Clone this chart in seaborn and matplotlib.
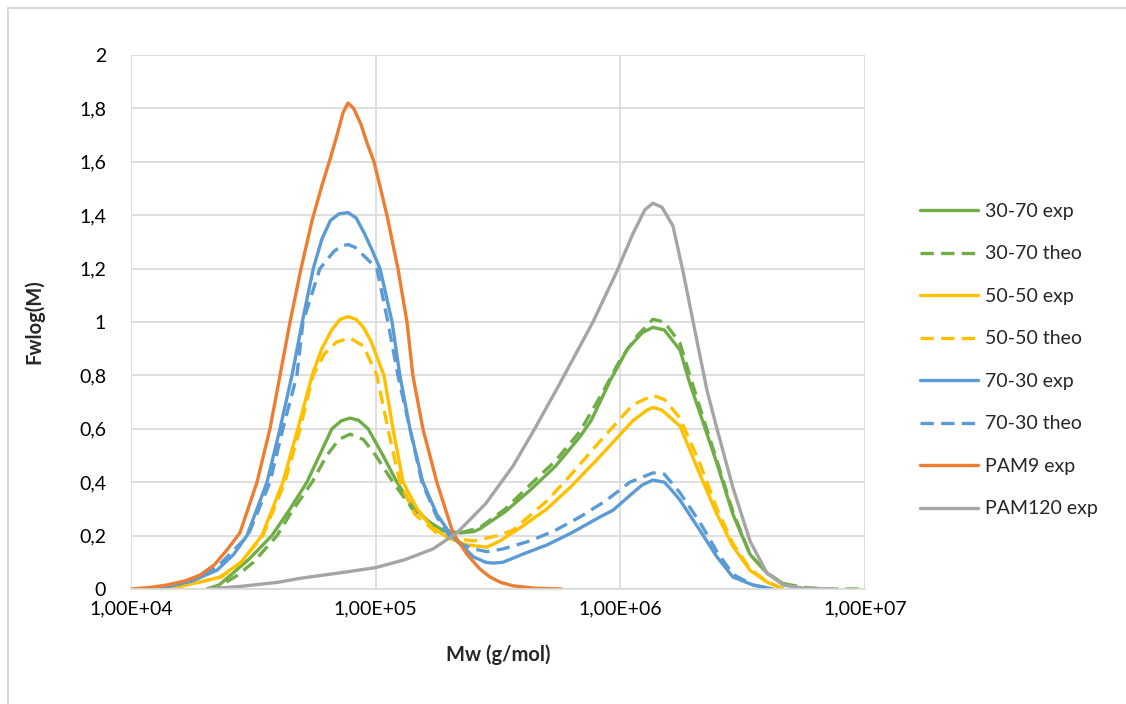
import numpy as np
import pandas as pd
import matplotlib
matplotlib.use("Agg")
import matplotlib.pyplot as plt
import seaborn as sns
from matplotlib.lines import Line2D

# ---- data (log10 of Mw in g/mol, Fwlog(M)) ----
labels = ["30-70 exp", "30-70 theo", "50-50 exp", "50-50 theo",
          "70-30 exp", "70-30 theo", "PAM9 exp", "PAM120 exp"]

logM_3070_exp = [4.311, 4.36, 4.405, 4.48, 4.576, 4.65, 4.719, 4.77, 4.821, 4.86, 4.895, 4.93, 4.969, 5.03,
                 5.087, 5.15, 5.22, 5.275, 5.345, 5.40, 5.426, 5.53, 5.631, 5.735, 5.835, 5.88, 5.917,
                 5.958, 6.03, 6.09, 6.133, 6.18, 6.244, 6.284, 6.325, 6.395, 6.46, 6.53, 6.599, 6.665, 6.734]
fw_3070_exp = [0.0, 0.015, 0.05, 0.11, 0.20, 0.30, 0.40, 0.50, 0.60, 0.63, 0.64, 0.632, 0.60, 0.50,
               0.40, 0.31, 0.25, 0.22, 0.21, 0.215, 0.225, 0.29, 0.37, 0.46, 0.57, 0.63, 0.70,
               0.78, 0.90, 0.96, 0.98, 0.97, 0.895, 0.77, 0.66, 0.47, 0.28, 0.13, 0.06, 0.02, 0.0]

logM_3070_theo = [4.311, 4.37, 4.433, 4.50, 4.597, 4.65, 4.74, 4.80, 4.85, 4.895, 4.95, 5.00, 5.071,
                  5.15, 5.263, 5.345, 5.426, 5.53, 5.631, 5.735, 5.835, 5.93, 6.00, 6.07, 6.133, 6.18,
                  6.244, 6.284, 6.325, 6.395, 6.46, 6.53, 6.599, 6.665, 6.76, 6.85, 7.0]
fw_3070_theo = [0.0, 0.015, 0.05, 0.10, 0.20, 0.28, 0.40, 0.50, 0.56, 0.58, 0.56, 0.50, 0.40,
                0.30, 0.22, 0.21, 0.23, 0.30, 0.39, 0.48, 0.59, 0.74, 0.86, 0.95, 1.01, 1.00,
                0.92, 0.80, 0.68, 0.48, 0.29, 0.13, 0.06, 0.02, 0.005, 0.0, 0.0]

logM_5050_exp = [4.10, 4.20, 4.30, 4.364, 4.45, 4.535, 4.621, 4.682, 4.74, 4.78, 4.82, 4.855, 4.887, 4.92,
                 4.95, 4.98, 5.034, 5.071, 5.112, 5.17, 5.23, 5.30, 5.373, 5.455, 5.508, 5.60, 5.70, 5.80,
                 5.91, 6.051, 6.109, 6.133, 6.17, 6.244, 6.325, 6.395, 6.46, 6.53, 6.599, 6.665]
fw_5050_exp = [0.0, 0.01, 0.03, 0.045, 0.10, 0.20, 0.40, 0.60, 0.80, 0.90, 0.97, 1.01, 1.02, 1.01,
               0.98, 0.93, 0.80, 0.60, 0.40, 0.30, 0.23, 0.19, 0.165, 0.157, 0.18, 0.235, 0.30, 0.385,
               0.49, 0.63, 0.67, 0.68, 0.67, 0.61, 0.43, 0.28, 0.16, 0.07, 0.026, 0.0]

logM_5050_theo = [4.10, 4.20, 4.30, 4.37, 4.45, 4.539, 4.629, 4.691, 4.744, 4.79, 4.84, 4.895, 4.95,
                  5.005, 5.05, 5.099, 5.16, 5.25, 5.32, 5.40, 5.50, 5.561, 5.70, 5.80, 5.904, 6.051,
                  6.133, 6.18, 6.244, 6.325, 6.395, 6.46, 6.53, 6.599, 6.665]
fw_5050_theo = [0.0, 0.01, 0.03, 0.045, 0.10, 0.20, 0.40, 0.60, 0.80, 0.88, 0.925, 0.94, 0.91,
                0.80, 0.60, 0.40, 0.28, 0.21, 0.19, 0.18, 0.20, 0.22, 0.33, 0.43, 0.54, 0.69,
                0.725, 0.71, 0.64, 0.47, 0.30, 0.17, 0.075, 0.028, 0.0]

logM_7030_exp = [4.05, 4.15, 4.25, 4.351, 4.42, 4.474, 4.556, 4.609, 4.658, 4.70, 4.745, 4.78, 4.815, 4.85,
                 4.887, 4.92, 4.955, 4.985, 5.018, 5.067, 5.099, 5.14, 5.193, 5.25, 5.31, 5.345, 5.40,
                 5.45, 5.479, 5.52, 5.60, 5.70, 5.80, 5.917, 5.97, 6.051, 6.09, 6.133, 6.18, 6.21,
                 6.244, 6.325, 6.395, 6.46, 6.542, 6.624]
fw_7030_exp = [0.0, 0.008, 0.03, 0.07, 0.13, 0.20, 0.40, 0.60, 0.80, 1.00, 1.20, 1.31, 1.38, 1.405,
               1.41, 1.39, 1.33, 1.27, 1.20, 1.00, 0.80, 0.60, 0.40, 0.28, 0.20, 0.17, 0.12,
               0.10, 0.097, 0.10, 0.13, 0.165, 0.21, 0.27, 0.295, 0.36, 0.39, 0.408, 0.40, 0.37,
               0.333, 0.22, 0.12, 0.045, 0.015, 0.0]

logM_7030_theo = [4.05, 4.15, 4.25, 4.35, 4.478, 4.568, 4.621, 4.678, 4.703, 4.772, 4.83, 4.86, 4.887,
                  4.915, 4.95, 5.005, 5.05, 5.091, 5.14, 5.189, 5.25, 5.30, 5.345, 5.40, 5.455, 5.52,
                  5.631, 5.735, 5.835, 5.94, 6.039, 6.133, 6.18, 6.244, 6.325, 6.395, 6.46, 6.542, 6.624]
fw_7030_theo = [0.0, 0.01, 0.035, 0.08, 0.20, 0.40, 0.60, 0.80, 1.00, 1.20, 1.265, 1.285, 1.29,
                1.28, 1.25, 1.20, 1.00, 0.80, 0.60, 0.40, 0.27, 0.20, 0.17, 0.15, 0.14, 0.15,
                0.18, 0.22, 0.27, 0.33, 0.40, 0.435, 0.43, 0.36, 0.25, 0.14, 0.055, 0.015, 0.0]

logM_pam9 = [4.00, 4.08, 4.147, 4.22, 4.282, 4.34, 4.392, 4.445, 4.515, 4.568, 4.609, 4.65, 4.695, 4.74,
             4.78, 4.817, 4.845, 4.867, 4.887, 4.91, 4.94, 4.965, 4.993, 5.02, 5.046, 5.091, 5.128,
             5.152, 5.193, 5.25, 5.316, 5.373, 5.426, 5.467, 5.51, 5.561, 5.65, 5.76]
fw_pam9 = [0.0, 0.006, 0.015, 0.03, 0.052, 0.09, 0.146, 0.21, 0.40, 0.60, 0.80, 1.00, 1.20, 1.38,
           1.51, 1.62, 1.71, 1.785, 1.82, 1.80, 1.74, 1.67, 1.60, 1.50, 1.40, 1.20, 1.00,
           0.80, 0.60, 0.40, 0.21, 0.13, 0.075, 0.045, 0.025, 0.012, 0.003, 0.0]

logM_pam120 = [4.311, 4.45, 4.60, 4.691, 4.85, 5.00, 5.12, 5.234, 5.332, 5.45, 5.561, 5.65, 5.753,
               5.888, 5.986, 6.051, 6.10, 6.133, 6.17, 6.215, 6.256, 6.313, 6.354, 6.395, 6.46,
               6.53, 6.599, 6.665, 6.75, 6.857]
fw_pam120 = [0.0, 0.01, 0.025, 0.04, 0.06, 0.08, 0.11, 0.15, 0.21, 0.32, 0.46, 0.60, 0.77,
             1.00, 1.19, 1.33, 1.42, 1.445, 1.43, 1.36, 1.19, 0.93, 0.745, 0.60, 0.38,
             0.18, 0.06, 0.015, 0.003, 0.0]

x_ticks = [1e4, 1e5, 1e6, 1e7]
x_ticklabels = ["1,00E+04", "1,00E+05", "1,00E+06", "1,00E+07"]
y_ticks = [0, 0.2, 0.4, 0.6, 0.8, 1.0, 1.2, 1.4, 1.6, 1.8, 2.0]
y_ticklabels = ["0", "0,2", "0,4", "0,6", "0,8", "1", "1,2", "1,4", "1,6", "1,8", "2"]

series_logM = [logM_3070_exp, logM_3070_theo, logM_5050_exp, logM_5050_theo,
               logM_7030_exp, logM_7030_theo, logM_pam9, logM_pam120]
series_fw = [fw_3070_exp, fw_3070_theo, fw_5050_exp, fw_5050_theo,
             fw_7030_exp, fw_7030_theo, fw_pam9, fw_pam120]

colors = ["#70AD47", "#70AD47", "#FFC000", "#FFC000", "#5B9BD5", "#5B9BD5", "#ED7D31", "#A5A5A5"]
dashed = [False, True, False, True, False, True, False, False]

frames = []
for lab, lm, fw in zip(labels, series_logM, series_fw):
    frames.append(pd.DataFrame({"series": lab, "Mw": 10 ** np.array(lm), "Fw": fw}))
df = pd.concat(frames, ignore_index=True)

# ---- plotting ----
sns.set_theme(style="white")
plt.rcParams["font.family"] = ["Lato", "DejaVu Sans"]

W, H = 1126, 704
fig = plt.figure(figsize=(W / 100, H / 100), dpi=100)
ax = fig.add_axes([131 / W, (H - 589) / H, (865 - 131) / W, (589 - 55) / H])

LW = 2.4
DASH = (0, (4.0, 2.2))
handles = []
for lab, c, d in zip(labels, colors, dashed):
    sub = df[df["series"] == lab]
    ls = DASH if d else "-"
    sns.lineplot(data=sub, x="Mw", y="Fw", ax=ax, color=c, lw=LW, linestyle=ls,
                 estimator=None, sort=False, legend=False)
    handles.append(Line2D([0], [0], color=c, lw=LW, linestyle=ls))

ax.set_xscale("log")
ax.set_xlim(1e4, 1e7)
ax.set_ylim(0, 2)
ax.set_xticks(x_ticks)
ax.set_xticklabels(x_ticklabels)
ax.set_yticks(y_ticks)
ax.set_yticklabels(y_ticklabels)
ax.minorticks_off()
ax.tick_params(axis="both", length=0, labelsize=14, colors="#000000")
ax.tick_params(axis="y", pad=18)
ax.tick_params(axis="x", pad=8)
ax.grid(True, color="#d9d9d9", lw=1.2)
ax.set_axisbelow(True)
for s in ["top", "right", "left"]:
    ax.spines[s].set_visible(False)
ax.spines["bottom"].set_color("#d9d9d9")
ax.spines["bottom"].set_linewidth(1.2)

ax.set_xlabel("Mw (g/mol)", fontsize=14.5, fontweight="bold", labelpad=20)
ax.set_ylabel("Fwlog(M)", fontsize=14.5, fontweight="bold", labelpad=25)

fig.legend(handles, labels, loc="upper left", bbox_to_anchor=(920 / W, 1 - 203 / H),
           frameon=False, fontsize=14, handlelength=3.0, handletextpad=0.35,
           labelspacing=1.31, borderpad=0, borderaxespad=0)

# outer chart frame (left and top edges visible)
fig.add_artist(Line2D([8 / W, 8 / W], [0, 1 - 8 / H], color="#d9d9d9", lw=1.5, transform=fig.transFigure))
fig.add_artist(Line2D([8 / W, 1], [1 - 8 / H, 1 - 8 / H], color="#d9d9d9", lw=1.5, transform=fig.transFigure))

fig.savefig("out.png", dpi=100)
